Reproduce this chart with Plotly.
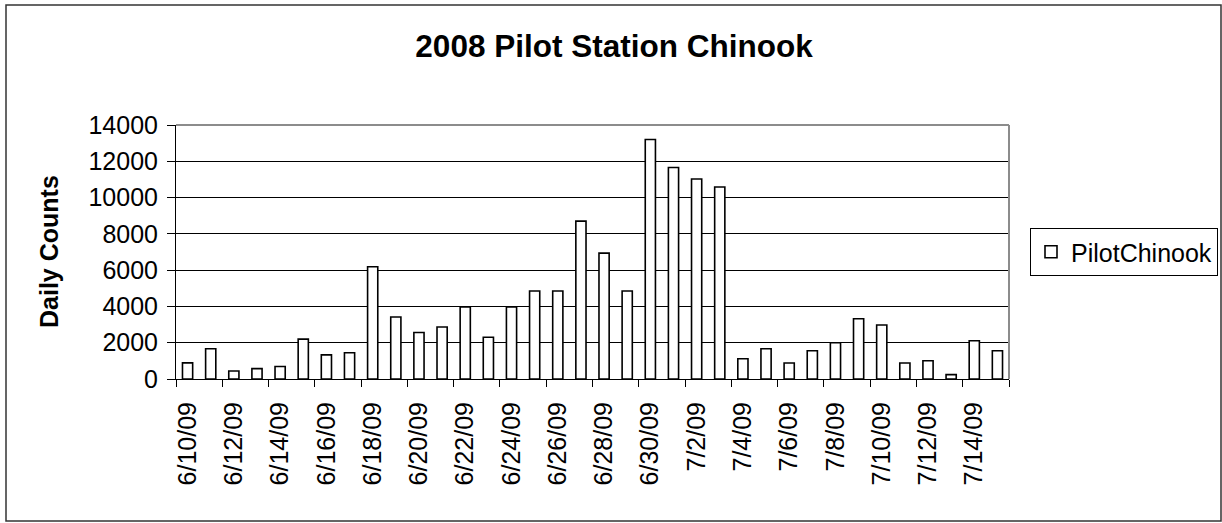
import plotly.graph_objects as go

# Daily passage counts at Pilot Station, 6/10 through 7/15
dates = [
    "6/10/09", "6/11/09", "6/12/09", "6/13/09", "6/14/09", "6/15/09",
    "6/16/09", "6/17/09", "6/18/09", "6/19/09", "6/20/09", "6/21/09",
    "6/22/09", "6/23/09", "6/24/09", "6/25/09", "6/26/09", "6/27/09",
    "6/28/09", "6/29/09", "6/30/09", "7/1/09", "7/2/09", "7/3/09",
    "7/4/09", "7/5/09", "7/6/09", "7/7/09", "7/8/09", "7/9/09",
    "7/10/09", "7/11/09", "7/12/09", "7/13/09", "7/14/09", "7/15/09",
]
pilot_chinook = [
    890, 1670, 440, 570, 690, 2200,
    1330, 1450, 6190, 3420, 2560, 2870,
    3970, 2300, 3970, 4850, 4850, 8700,
    6940, 4850, 13200, 11660, 11020, 10580,
    1120, 1670, 880, 1560, 2000, 3320,
    2980, 880, 1010, 240, 2110, 1560,
]
y_ticks = [0, 2000, 4000, 6000, 8000, 10000, 12000, 14000]

FONT = "Liberation Sans, Arial, sans-serif"

fig = go.Figure(
    go.Bar(
        x=dates,
        y=pilot_chinook,
        name="PilotChinook",
        marker=dict(color="white", line=dict(color="black", width=1.6)),
    )
)

# plot area in pixels: left 176, right 1009, top 125, bottom 379
W, H = 1222, 523
L, R, T, B = 176, 1009, 125, 379
pw, ph = R - L, B - T

def px_x(x):
    return (x - L) / pw

def px_y(y):
    return (B - y) / ph

fig.update_layout(
    width=W,
    height=H,
    margin=dict(l=L, r=W - R, t=T, b=H - B, autoexpand=False),
    paper_bgcolor="white",
    plot_bgcolor="white",
    bargap=0.56,
    font=dict(family=FONT, size=25, color="black"),
    title=dict(
        text="<b>2008 Pilot Station Chinook</b>",
        x=614 / W,
        xanchor="center",
        y=1 - 46 / H,
        yanchor="middle",
        font=dict(family=FONT, size=31.5, color="black"),
    ),
    showlegend=True,
    legend=dict(
        x=px_x(1030),
        xanchor="left",
        y=px_y(252),
        yanchor="middle",
        bordercolor="black",
        borderwidth=1,
        bgcolor="white",
        font=dict(family=FONT, size=25, color="black"),
        itemwidth=30,
    ),
    xaxis=dict(
        type="category",
        dtick=2,
        tickangle=-90,
        tickson="boundaries",
        ticks="outside",
        ticklen=7,
        tickcolor="black",
        ticklabelstandoff=12,
        showline=True,
        linecolor="black",
        linewidth=1,
        showgrid=False,
        tickfont=dict(family=FONT, size=25, color="black"),
    ),
    yaxis=dict(
        range=[0, 14000],
        tickvals=y_ticks,
        tickformat="d",
        ticks="outside",
        ticklen=8,
        tickcolor="black",
        ticklabelstandoff=4,
        showline=True,
        linecolor="black",
        linewidth=1,
        showgrid=True,
        gridcolor="black",
        gridwidth=1,
        zeroline=False,
        tickfont=dict(family=FONT, size=25, color="black"),
    ),
    annotations=[
        dict(
            text="<b>Daily Counts</b>",
            textangle=-90,
            x=px_x(49),
            y=px_y(252),
            xref="paper",
            yref="paper",
            xanchor="center",
            yanchor="middle",
            showarrow=False,
            font=dict(family=FONT, size=25, color="black"),
        )
    ],
    shapes=[
        # plot area frame, top and right edges
        dict(type="line", xref="paper", yref="paper", x0=0, x1=1, y0=1, y1=1,
             line=dict(color="#8c8c8c", width=2), layer="above"),
        dict(type="line", xref="paper", yref="paper", x0=1, x1=1, y0=0, y1=1,
             line=dict(color="#8c8c8c", width=2), layer="above"),
        # chart frame
        dict(type="rect", xref="paper", yref="paper",
             x0=px_x(6), x1=px_x(1221), y0=px_y(521), y1=px_y(5),
             line=dict(color="#333333", width=1.5), layer="above"),
    ],
)

fig.write_html("out.html")
